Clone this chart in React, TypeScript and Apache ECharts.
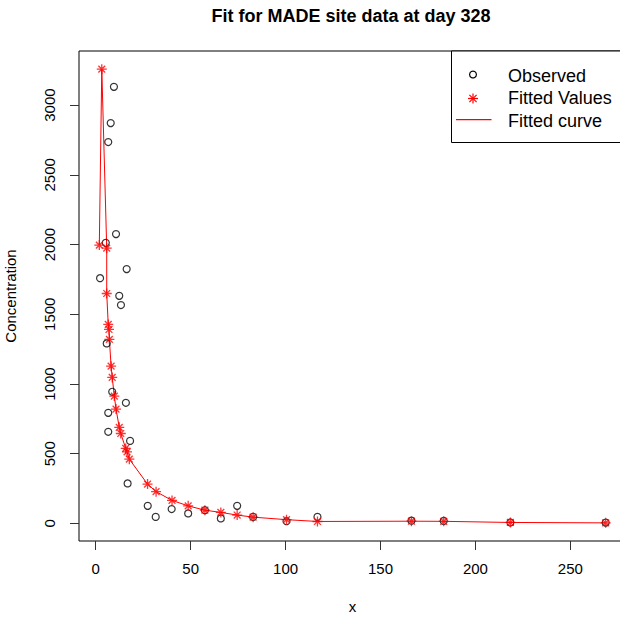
import React, { useEffect, useRef } from "react";
import * as echarts from "echarts";

const obsX = [9.6, 7.9, 6.6, 10.7, 5.3, 16.3, 2.3, 12.4, 13.3, 5.8, 8.7, 15.9, 6.6, 6.6, 18.1, 16.8, 27.4, 31.6, 40.0, 48.7, 57.5, 65.9, 74.5, 82.9, 100.5, 116.8, 166.3, 183.3, 218.4, 268.6];
const obsY = [3131, 2871, 2735, 2075, 2012, 1824, 1759, 1632, 1566, 1291, 944, 865, 793, 657, 592, 287, 126, 47, 103, 72, 95, 36, 126, 47, 16, 47, 20, 18, 7, 6];

const fitX = [1.9, 3.2, 5.8, 5.8, 6.6, 7.0, 7.2, 8.1, 8.7, 9.8, 10.7, 12.4, 13.2, 15.8, 16.5, 17.7, 27.3, 31.8, 40.2, 48.7, 57.5, 65.9, 74.5, 82.9, 100.5, 116.8, 166.3, 183.3, 218.4, 268.6];
const fitY = [1996, 3258, 1974, 1649, 1427, 1391, 1320, 1128, 1047, 913, 820, 689, 645, 538, 513, 461, 282, 228, 165, 126, 95, 79, 60, 45, 27, 14, 16, 15, 7, 4];

const xTicks = [0, 50, 100, 150, 200, 250];
const yTicks = [0, 500, 1000, 1500, 2000, 2500, 3000];

const legendLabels = ["Observed", "Fitted Values", "Fitted curve"];
const titleText = "Fit for MADE site data at day 328";

const FONT = "'Liberation Sans', Arial, Helvetica, sans-serif";
const STAR = "path://M5,0L5,10M0,5L10,5M1.6,1.6L8.4,8.4M1.6,8.4L8.4,1.6";

export default function App() {
  const ref = useRef<HTMLDivElement>(null);
  useEffect(() => {
    if (!ref.current) return;
    const chart = echarts.init(ref.current, null, { renderer: "svg" });
    const obs = obsX.map((x, i) => [x, obsY[i]]);
    const fit = fitX.map((x, i) => [x, fitY[i]]);
    const starLines = (cx: number, cy: number, a: number) => {
      const d = a * 0.72;
      return [
        [cx, cy - a, cx, cy + a],
        [cx - a, cy, cx + a, cy],
        [cx - d, cy - d, cx + d, cy + d],
        [cx - d, cy + d, cx + d, cy - d],
      ].map((s, k) => ({
        type: "line",
        id: "legStar" + k,
        z: 11,
        shape: { x1: s[0], y1: s[1], x2: s[2], y2: s[3] },
        style: { stroke: "#ff0000", lineWidth: 1.2 },
      }));
    };
    chart.setOption({
      animation: false,
      backgroundColor: "#ffffff",
      textStyle: { fontFamily: FONT },
      grid: {
        left: 79,
        top: 51,
        width: 547,
        height: 490,
        containLabel: false,
        outerBoundsMode: "none",
        show: true,
        borderColor: "#000",
        borderWidth: 1,
        backgroundColor: "transparent",
      },
      xAxis: {
        type: "value",
        min: -8.8,
        max: 279.3,
        name: "x",
        nameLocation: "middle",
        nameGap: 58,
        nameTextStyle: { fontSize: 15, color: "#000", fontFamily: FONT },
        splitLine: { show: false },
        axisLine: { show: false, onZero: false },
        axisTick: {
          show: true,
          length: 9,
          lineStyle: { color: "#333", width: 1 },
          customValues: xTicks,
        },
        axisLabel: {
          customValues: xTicks,
          margin: 20,
          fontSize: 15,
          color: "#000",
          fontFamily: FONT,
          formatter: (v: number) => String(v),
        },
      },
      yAxis: {
        type: "value",
        min: -126,
        max: 3388,
        name: "Concentration",
        nameLocation: "middle",
        nameGap: 61,
        nameRotate: 90,
        nameTextStyle: { fontSize: 15, color: "#000", fontFamily: FONT },
        splitLine: { show: false },
        axisLine: { show: false, onZero: false },
        axisTick: {
          show: true,
          length: 9,
          lineStyle: { color: "#333", width: 1 },
          customValues: yTicks,
        },
        axisLabel: {
          customValues: yTicks,
          rotate: 90,
          margin: 22,
          fontSize: 15,
          color: "#000",
          fontFamily: FONT,
          formatter: (v: number) => String(v),
        },
      },
      series: [
        {
          name: "Fitted curve",
          type: "line",
          data: fit,
          symbol: "none",
          lineStyle: { color: "#ff0000", width: 1 },
          z: 2,
        },
        {
          name: "Observed",
          type: "scatter",
          data: obs,
          symbol: "circle",
          symbolSize: 7,
          itemStyle: { color: "rgba(0,0,0,0)", borderColor: "#000", borderWidth: 1.2 },
          z: 3,
        },
        {
          name: "Fitted Values",
          type: "scatter",
          data: fit,
          symbol: STAR,
          symbolSize: 10,
          itemStyle: { color: "rgba(0,0,0,0)", borderColor: "#ff0000", borderWidth: 1.3 },
          z: 4,
        },
      ],
      graphic: [
        {
          type: "text",
          id: "title",
          x: 351,
          y: 16,
          style: {
            text: titleText,
            fontSize: 18,
            fontWeight: "bold",
            fontFamily: FONT,
            fill: "#000",
            align: "center",
            verticalAlign: "middle",
          },
        },
        {
          type: "rect",
          id: "legBox",
          shape: { x: 451.5, y: 51, width: 175, height: 91.5 },
          style: { fill: "#fff", stroke: "#000", lineWidth: 1 },
          z: 10,
        },
        {
          type: "circle",
          id: "legCircle",
          shape: { cx: 473, cy: 74.5, r: 3.4 },
          style: { fill: "none", stroke: "#000", lineWidth: 1.2 },
          z: 11,
        },
        ...starLines(473, 98.5, 5),
        {
          type: "rect",
          id: "legLine",
          shape: { x: 456, y: 119, width: 35.5, height: 1.2 },
          style: { fill: "#ff0000", stroke: "none" },
          z: 12,
        },
        ...legendLabels.map((t, i) => ({
          type: "text",
          id: "legText" + i,
          x: 508,
          y: 75.5 + i * 22.5,
          z: 11,
          style: {
            text: t,
            fontSize: 18,
            fontFamily: FONT,
            fill: "#000",
            align: "left",
            verticalAlign: "middle",
          },
        })),
      ],
    });
    return () => chart.dispose();
  }, []);
  return (
    <div
      ref={ref}
      style={{ position: "fixed", left: 0, top: 0, width: 620, height: 622 }}
    />
  );
}
